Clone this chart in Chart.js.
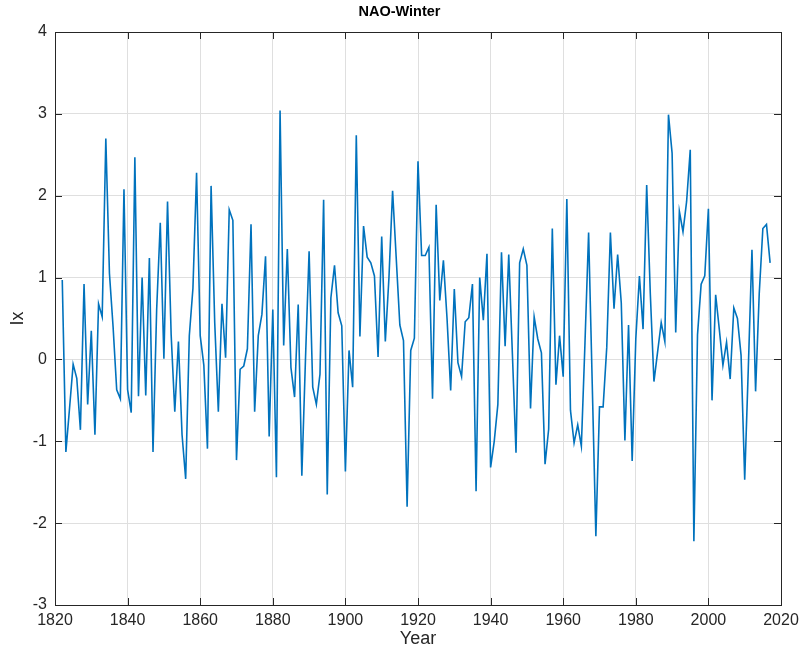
<!DOCTYPE html>
<html>
<head>
<meta charset="utf-8">
<title>NAO-Winter</title>
<script src="https://cdn.jsdelivr.net/npm/chart.js@4.4.1/dist/chart.umd.min.js"></script>
<style>
  html, body { margin: 0; padding: 0; background: #fff; }
  #wrap { width: 799px; height: 648px; }
</style>
</head>
<body>
<div id="wrap"><canvas id="chart" width="799" height="648"></canvas></div>
<script>
// winter NAO index, one value per year starting at startYear
const startYear = 1822;
const naoWinter = [
  0.97, -1.13, -0.6, -0.06, -0.23, -0.86, 0.92, -0.55,
  0.35, -0.92, 0.68, 0.52, 2.70, 1.05, 0.4, -0.37, -0.48, 2.08,
  -0.37, -0.65, 2.47, -0.45, 1.0, -0.44, 1.24, -1.13, 0.6, 1.67,
  0.01, 1.93, 0.3, -0.64, 0.22, -0.92, -1.46, 0.29, 0.87, 2.28,
  0.29, -0.07, -1.09, 2.12, 0.45, -0.64, 0.68, 0.02, 1.83, 1.70,
  -1.23, -0.12, -0.08, 0.13, 1.65, -0.64, 0.29, 0.55, 1.26, -0.94,
  0.61, -1.44, 3.04, 0.17, 1.35, -0.1, -0.46, 0.67, -1.42, 0.0,
  1.32, -0.34, -0.55, -0.18, 1.95, -1.65, 0.75, 1.15, 0.57, 0.41,
  -1.37, 0.11, -0.34, 2.74, 0.28, 1.63, 1.25, 1.18, 1.02, 0.03,
  1.5, 0.22, 1.0, 2.06, 1.24, 0.42, 0.23, -1.80, 0.11, 0.26,
  2.42, 1.27, 1.27, 1.37, -0.48, 1.89, 0.72, 1.21, 0.5, -0.38,
  0.86, -0.04, -0.21, 0.46, 0.51, 0.92, -1.61, 1.0, 0.48, 1.29,
  -1.32, -1.0, -0.55, 1.31, 0.16, 1.28, 0.07, -1.14, 1.18, 1.35,
  1.15, -0.6, 0.52, 0.25, 0.08, -1.28, -0.85, 1.6, -0.31, 0.29,
  -0.21, 1.96, -0.62, -1.02, -0.8, -1.06, 0.2, 1.55, -0.3, -2.16,
  -0.58, -0.58, 0.15, 1.55, 0.62, 1.28, 0.69, -0.99, 0.42, -1.24,
  0.25, 1.02, 0.37, 2.13, 0.8, -0.27, 0.09, 0.45, 0.22, 2.99,
  2.52, 0.33, 1.81, 1.56, 1.93, 2.56, -2.22, 0.30, 0.92, 1.02,
  1.84, -0.50, 0.79, 0.37, -0.07, 0.21, -0.24, 0.63, 0.5, 0.05,
  -1.47, -0.1, 1.34, -0.39, 0.8, 1.6, 1.65, 1.18
];
const xTicks = [1820, 1840, 1860, 1880, 1900, 1920, 1940, 1960, 1980, 2000, 2020];
const yTicks = [-3, -2, -1, 0, 1, 2, 3, 4];

const points = naoWinter.map((v, i) => ({ x: startYear + i, y: v }));

Chart.defaults.font.family = '"Liberation Sans", Arial, Helvetica, sans-serif';
Chart.defaults.color = '#262626';

// matlab style box with inward ticks on all four sides
const axesBox = {
  id: 'axesBox',
  afterDatasetsDraw(chart) {
    const { ctx, chartArea: a, scales: { x, y } } = chart;
    const len = 7;
    ctx.save();
    ctx.strokeStyle = '#262626';
    ctx.lineWidth = 1;
    ctx.beginPath();
    xTicks.forEach(t => {
      const px = Math.round(x.getPixelForValue(t)) + 0.5;
      ctx.moveTo(px, a.bottom); ctx.lineTo(px, a.bottom - len);
      ctx.moveTo(px, a.top); ctx.lineTo(px, a.top + len);
    });
    yTicks.forEach(t => {
      const py = Math.round(y.getPixelForValue(t)) + 0.5;
      ctx.moveTo(a.left, py); ctx.lineTo(a.left + len, py);
      ctx.moveTo(a.right, py); ctx.lineTo(a.right - len, py);
    });
    ctx.stroke();
    ctx.strokeRect(Math.round(a.left) + 0.5, Math.round(a.top) + 0.5,
      Math.round(a.right - a.left), Math.round(a.bottom - a.top));
    ctx.restore();
  }
};

new Chart(document.getElementById('chart'), {
  type: 'line',
  data: {
    datasets: [{
      data: points,
      borderColor: '#0072BD',
      borderWidth: 1.6,
      pointRadius: 0,
      fill: false,
      tension: 0
    }]
  },
  options: {
    responsive: false,
    animation: false,
    devicePixelRatio: 1,
    layout: { padding: 0 },
    plugins: {
      legend: { display: false },
      tooltip: { enabled: false },
      title: {
        display: true,
        text: 'NAO-Winter',
        fullSize: true,
        font: { size: 14.5, weight: 'bold' },
        color: '#000',
        padding: { top: 3, bottom: 11.6 }
      }
    },
    scales: {
      x: {
        type: 'linear',
        min: 1820,
        max: 2020,
        afterBuildTicks: s => { s.ticks = xTicks.map(v => ({ value: v })); },
        afterFit: s => { s.height = 43; s.paddingLeft = 0; s.paddingRight = 18; },
        ticks: { font: { size: 16 }, padding: 6, maxRotation: 0, autoSkip: false, callback: v => String(v) },
        grid: { color: '#dfdfdf', drawTicks: false },
        border: { display: false },
        title: { display: true, text: 'Year', font: { size: 18 }, padding: { top: 0, bottom: -1.5 } }
      },
      y: {
        min: -3,
        max: 4,
        afterBuildTicks: s => { s.ticks = yTicks.map(v => ({ value: v })); },
        afterFit: s => { s.width = 55; s.paddingTop = 0; s.paddingBottom = 0; },
        ticks: { font: { size: 16 }, padding: 8, callback: v => String(v) },
        grid: { color: '#dfdfdf', drawTicks: false },
        border: { display: false },
        title: { display: true, text: 'Ix', font: { size: 18 }, padding: { top: 7, bottom: 0 } }
      }
    }
  },
  plugins: [axesBox]
});
</script>
</body>
</html>
